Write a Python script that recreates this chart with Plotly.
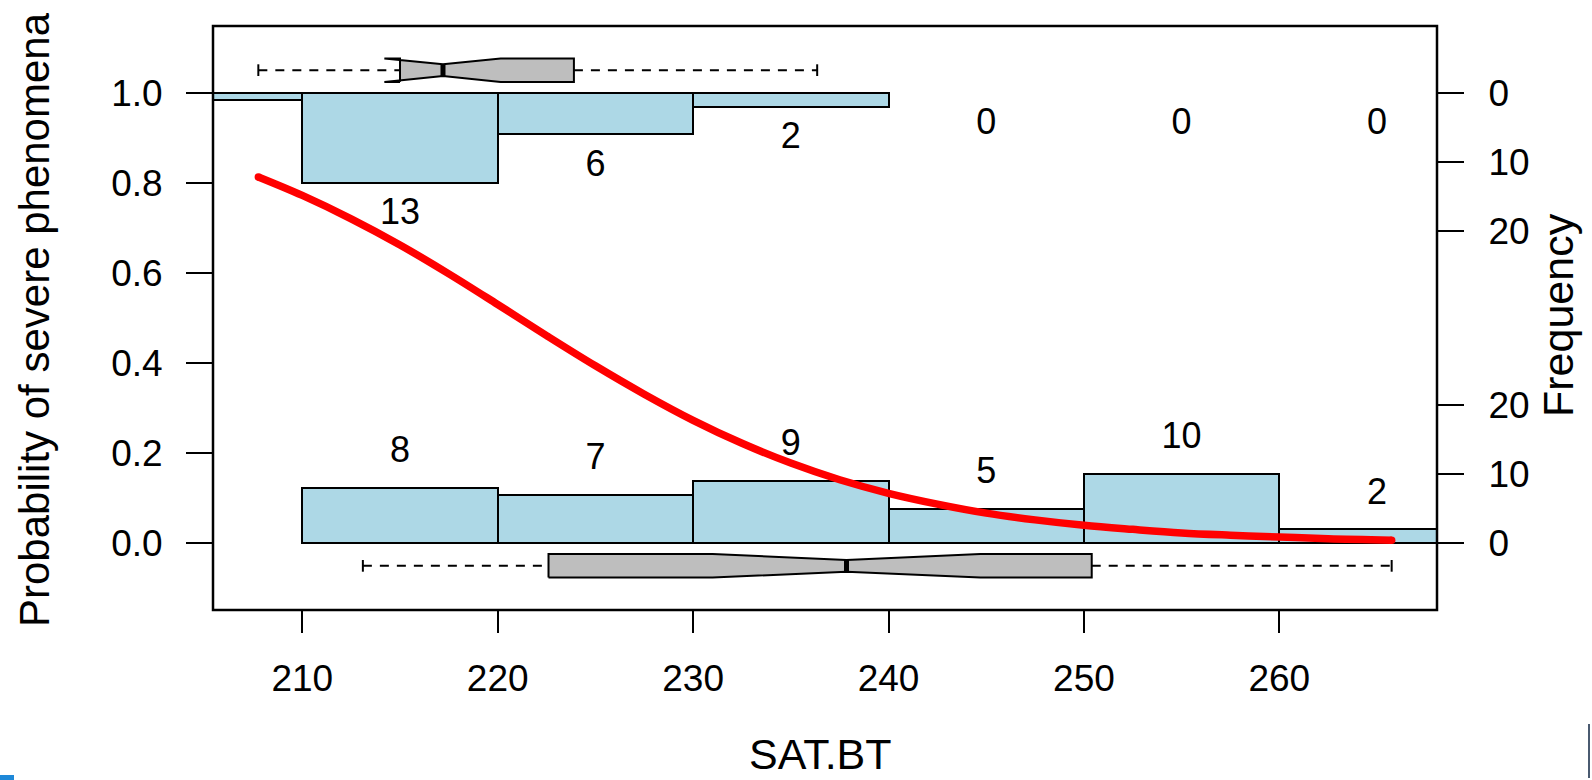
import plotly.graph_objects as go

# ---- data -------------------------------------------------------------
# histogram bins (breaks 200..270, width 10)
bin_mids = [205, 215, 225, 235, 245, 255, 265]
counts_severe = [1, 13, 6, 2, 0, 0, 0]      # y == 1, hanging from the top
counts_mild = [0, 8, 7, 9, 5, 10, 2]        # y == 0, standing on the bottom

# fitted probability curve
curve_x = [207.75, 210, 212.5, 215, 217.5, 220, 222.5, 225, 227.5, 230,
           232.5, 235, 237.5, 240, 242.5, 245, 247.5, 250, 252.5, 255,
           257.5, 260, 262.5, 265.75]
curve_p = [0.813, 0.772, 0.720, 0.662, 0.598, 0.530, 0.461, 0.394, 0.331,
           0.273, 0.222, 0.178, 0.141, 0.111, 0.087, 0.067, 0.052, 0.040,
           0.031, 0.023, 0.018, 0.014, 0.010, 0.007]

# notched boxplot statistics: min, Q1, median, Q3, max, notch low, notch high
box_severe = [207.75, 215.0, 217.2, 223.9, 236.35, 214.2, 220.15]
box_mild = [213.1, 222.6, 237.85, 250.4, 265.75, 231.0, 244.7]

x_ticks = [210, 220, 230, 240, 250, 260]
y_ticks = [0.0, 0.2, 0.4, 0.6, 0.8, 1.0]
y_ticklabels = ["0.0", "0.2", "0.4", "0.6", "0.8", "1.0"]
freq_ticks = [0, 10, 20]

# ---- geometry / style -------------------------------------------------
W, H = 1592, 780
ML, MR, MT, MB = 213, 155, 26, 170
PW, PH = W - ML - MR, H - MT - MB
X_RANGE = [205.43, 268.07]
Y_RANGE = [-0.148, 1.148]
FONT = "Liberation Sans, Arial, Helvetica, sans-serif"
scale = 1.0 / (5 * max(counts_severe + counts_mild))
BAR_FILL = "#ADD8E6"
BOX_FILL = "#BEBEBE"


def px_to_paper_x(px):
    return (px - ML) / PW


def px_to_paper_y(py):
    return (H - MB - py) / PH


fig = go.Figure()

# histograms
sev_x = [m for m, c in zip(bin_mids, counts_severe) if c > 0]
sev_h = [-c * scale for c in counts_severe if c > 0]
mild_x = [m for m, c in zip(bin_mids, counts_mild) if c > 0]
mild_h = [c * scale for c in counts_mild if c > 0]

bar_marker = dict(color=BAR_FILL, line=dict(color="black", width=2))
fig.add_trace(go.Bar(x=sev_x, y=sev_h, base=1.0, width=10, marker=bar_marker,
                     hoverinfo="skip", showlegend=False))
fig.add_trace(go.Bar(x=mild_x, y=mild_h, base=0.0, width=10, marker=bar_marker,
                     hoverinfo="skip", showlegend=False))

# fitted curve
fig.add_trace(go.Scatter(x=curve_x, y=curve_p, mode="lines",
                         line=dict(color="#FF0000", width=7.5, shape="spline"),
                         hoverinfo="skip", showlegend=False))
fig.add_trace(go.Scatter(x=[curve_x[0], curve_x[-1]], y=[curve_p[0], curve_p[-1]],
                         mode="markers", marker=dict(color="#FF0000", size=7.5),
                         hoverinfo="skip", showlegend=False))

# count labels
label_font = dict(family=FONT, size=36, color="black")
fig.add_trace(go.Scatter(x=bin_mids, y=[1 - c * scale - 0.072 for c in counts_severe],
                         mode="text", text=[str(c) for c in counts_severe],
                         textfont=label_font, cliponaxis=True,
                         hoverinfo="skip", showlegend=False))
fig.add_trace(go.Scatter(x=bin_mids, y=[c * scale + 0.077 for c in counts_mild],
                         mode="text", text=[str(c) for c in counts_mild],
                         textfont=label_font, cliponaxis=True,
                         hoverinfo="skip", showlegend=False))


def add_notched_box(stats, yc, h=0.026):
    mn, q1, med, q3, mx, nlo, nhi = stats
    px = [q1, nlo, med, nhi, q3, q3, nhi, med, nlo, q1, q1]
    py = [yc - h, yc - h, yc - h / 2, yc - h, yc - h, yc + h, yc + h,
          yc + h / 2, yc + h, yc + h, yc - h]
    fig.add_trace(go.Scatter(x=px, y=py, mode="lines", fill="toself",
                             fillcolor=BOX_FILL, line=dict(color="black", width=2),
                             hoverinfo="skip", showlegend=False))
    # whiskers
    for a, b in ((mn, q1), (q3, mx)):
        fig.add_trace(go.Scatter(x=[a, b], y=[yc, yc], mode="lines",
                                 line=dict(color="black", width=2, dash="9px,8px"),
                                 hoverinfo="skip", showlegend=False))
    # staples
    for v in (mn, mx):
        fig.add_trace(go.Scatter(x=[v, v], y=[yc - h / 2, yc + h / 2], mode="lines",
                                 line=dict(color="black", width=2),
                                 hoverinfo="skip", showlegend=False))
    # median
    fig.add_trace(go.Scatter(x=[med, med], y=[yc - h / 2, yc + h / 2], mode="lines",
                             line=dict(color="black", width=5),
                             hoverinfo="skip", showlegend=False))


add_notched_box(box_severe, 1.05)
add_notched_box(box_mild, -0.05)

# right-hand frequency axis
freq_pos = [1 - f * scale for f in freq_ticks] + [f * scale for f in freq_ticks]
freq_lab = [str(f) for f in freq_ticks] + [str(f) for f in freq_ticks]
fig.add_trace(go.Scatter(x=[X_RANGE[0]], y=[0.5], yaxis="y2", mode="markers",
                         marker=dict(opacity=0), hoverinfo="skip", showlegend=False))

tick_font = dict(family=FONT, size=37, color="black")
fig.update_layout(
    width=W, height=H,
    margin=dict(l=ML, r=MR, t=MT, b=MB, pad=0),
    paper_bgcolor="white", plot_bgcolor="white",
    barmode="overlay", bargap=0,
    xaxis=dict(range=X_RANGE, tickvals=x_ticks, ticktext=[str(v) for v in x_ticks],
               ticks="outside", ticklen=22, tickwidth=2, tickcolor="black",
               tickfont=tick_font, showgrid=False, zeroline=False, showline=False,
               ticklabelstandoff=14, automargin=False, fixedrange=True),
    yaxis=dict(range=Y_RANGE, tickvals=y_ticks, ticktext=y_ticklabels,
               ticks="outside", ticklen=26, tickwidth=2, tickcolor="black",
               tickfont=tick_font, showgrid=False, zeroline=False, showline=False,
               ticklabelstandoff=16, automargin=False, fixedrange=True),
    yaxis2=dict(range=Y_RANGE, overlaying="y", side="right", tickvals=freq_pos,
                ticktext=freq_lab, ticks="outside", ticklen=26, tickwidth=2,
                tickcolor="black", tickfont=tick_font, showgrid=False,
                zeroline=False, showline=False, ticklabelstandoff=17,
                automargin=False, fixedrange=True),
    shapes=[
        dict(type="rect", xref="paper", yref="paper", x0=0, x1=1, y0=0, y1=1,
             line=dict(color="black", width=2.5), layer="above"),
        # small marks at the lower corners of the page
        dict(type="rect", xref="paper", yref="paper",
             x0=px_to_paper_x(0), x1=px_to_paper_x(14),
             y0=px_to_paper_y(780), y1=px_to_paper_y(775),
             fillcolor="#1E88D8", line=dict(width=0)),
        dict(type="line", xref="paper", yref="paper",
             x0=px_to_paper_x(1589), x1=px_to_paper_x(1589),
             y0=px_to_paper_y(778), y1=px_to_paper_y(724),
             line=dict(color="#4A5A70", width=2)),
    ],
    annotations=[
        dict(text="SAT.BT", xref="paper", yref="paper",
             x=px_to_paper_x(820), y=px_to_paper_y(754),
             xanchor="center", yanchor="middle", showarrow=False,
             font=dict(family=FONT, size=43, color="black")),
        dict(text="Probability of severe phenomena", xref="paper", yref="paper",
             x=px_to_paper_x(34), y=px_to_paper_y(320), xanchor="center",
             yanchor="middle", textangle=-90, showarrow=False,
             font=dict(family=FONT, size=42, color="black")),
        dict(text="Frequency", xref="paper", yref="paper",
             x=px_to_paper_x(1558), y=px_to_paper_y(315), xanchor="center",
             yanchor="middle", textangle=-90, showarrow=False,
             font=dict(family=FONT, size=43, color="black")),
    ],
)

fig.write_html("out.html")
